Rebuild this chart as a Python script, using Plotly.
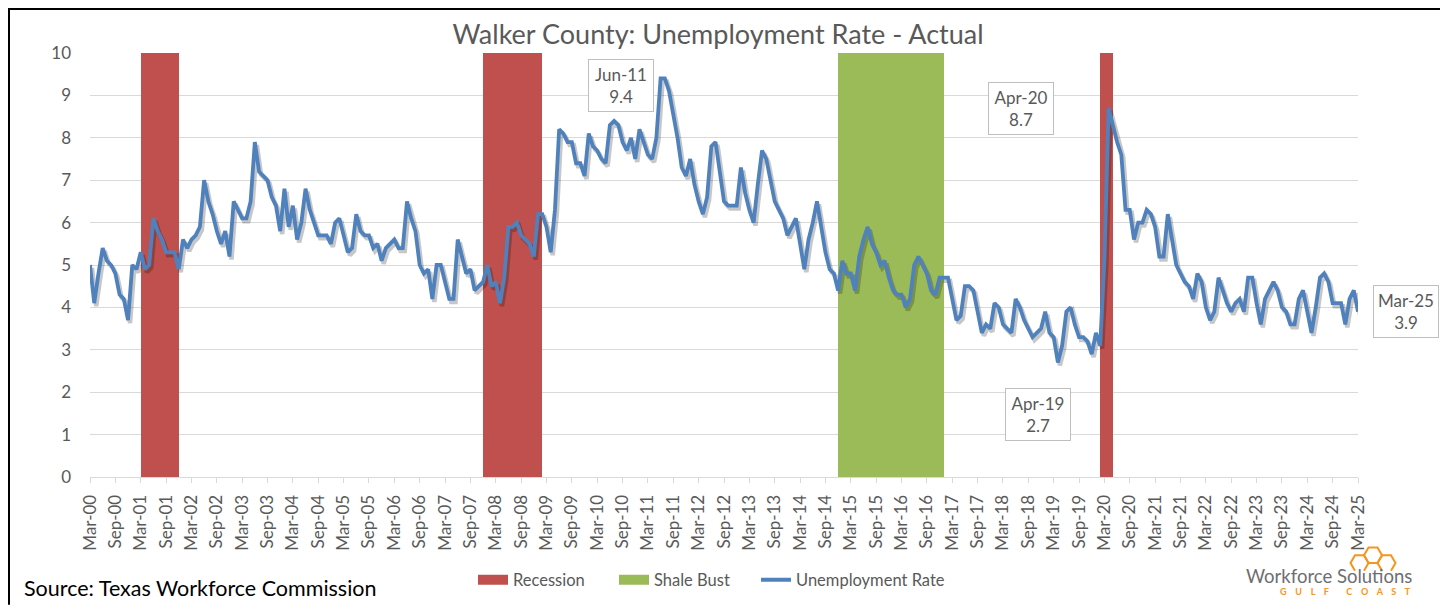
import pandas as pd
import plotly.graph_objects as go

# ---------------- data ----------------
months = [d.strftime('%b-%y') for d in pd.date_range('2000-03-01', '2025-03-01', freq='MS')]

rate = [
    5.0, 4.1, 4.8, 5.4, 5.1, 5.0, 4.8, 4.3, 4.2, 3.7,
    5.0, 4.9, 5.3, 4.9, 5.0, 6.1, 5.8, 5.6, 5.3, 5.3,
    5.3, 4.9, 5.6, 5.4, 5.6, 5.7, 5.9, 7.0, 6.5, 6.2,
    5.8, 5.5, 5.8, 5.2, 6.5, 6.3, 6.1, 6.1, 6.5, 7.9,
    7.2, 7.1, 7.0, 6.6, 6.4, 5.8, 6.8, 5.9, 6.4, 5.6,
    6.0, 6.8, 6.3, 6.0, 5.7, 5.7, 5.7, 5.5, 6.0, 6.1,
    5.7, 5.3, 5.4, 6.2, 5.8, 5.7, 5.7, 5.4, 5.5, 5.1,
    5.4, 5.5, 5.6, 5.4, 5.4, 6.5, 6.1, 5.8, 5.0, 4.8,
    4.9, 4.2, 5.0, 5.0, 4.6, 4.2, 4.2, 5.6, 5.2, 4.8,
    4.9, 4.4, 4.5, 4.6, 5.0, 4.5, 4.6, 4.1, 4.7, 5.9,
    5.9, 6.0, 5.7, 5.6, 5.5, 5.2, 6.2, 6.2, 5.9, 5.3,
    6.3, 8.2, 8.1, 7.9, 7.9, 7.4, 7.4, 7.1, 8.1, 7.8,
    7.7, 7.5, 7.4, 8.3, 8.4, 8.3, 7.9, 7.7, 8.0, 7.5,
    8.2, 7.9, 7.6, 7.5, 8.0, 9.4, 9.4, 9.1, 8.6, 8.0,
    7.3, 7.1, 7.5, 6.9, 6.5, 6.2, 6.6, 7.8, 7.9, 7.2,
    6.5, 6.4, 6.4, 6.4, 7.3, 6.7, 6.3, 6.0, 6.9, 7.7,
    7.5, 7.0, 6.5, 6.3, 6.1, 5.7, 5.9, 6.1, 5.5, 4.9,
    5.6, 6.0, 6.5, 5.9, 5.3, 4.9, 4.8, 4.4, 5.1, 4.8,
    4.8, 4.4, 5.2, 5.6, 5.9, 5.5, 5.3, 5.0, 5.1, 4.7,
    4.4, 4.3, 4.3, 4.0, 4.2, 5.0, 5.2, 5.0, 4.8, 4.4,
    4.3, 4.7, 4.7, 4.7, 4.2, 3.7, 3.8, 4.5, 4.5, 4.4,
    3.9, 3.4, 3.6, 3.5, 4.1, 4.0, 3.6, 3.5, 3.4, 4.2,
    4.0, 3.7, 3.5, 3.3, 3.4, 3.5, 3.9, 3.4, 3.3, 2.7,
    3.1, 3.9, 4.0, 3.6, 3.3, 3.3, 3.2, 2.9, 3.4, 3.1,
    5.1, 8.7, 8.3, 7.9, 7.6, 6.3, 6.3, 5.6, 6.0, 6.0,
    6.3, 6.2, 5.9, 5.2, 5.2, 6.2, 5.6, 5.0, 4.8, 4.6,
    4.5, 4.2, 4.8, 4.6, 4.0, 3.7, 3.9, 4.7, 4.4, 4.1,
    3.9, 4.1, 4.2, 3.9, 4.7, 4.7, 4.1, 3.6, 4.2, 4.4,
    4.6, 4.4, 4.0, 3.9, 3.6, 3.6, 4.2, 4.4, 3.9, 3.4,
    4.0, 4.7, 4.8, 4.6, 4.1, 4.1, 4.1, 3.6, 4.2, 4.4, 3.9,
]

recession_periods = [("Mar-01", "Nov-01"), ("Dec-07", "Jan-09"), ("Feb-20", "Apr-20")]
shale_periods = [("Dec-14", "Dec-16")]
band_height = 10
callouts = ["Jun-11", "Apr-20", "Apr-19", "Mar-25"]
tick_labels = months[::6]
y_ticks = list(range(0, 11))

# ---------------- styling ----------------
OFF = 8                                  # page body margin
FW, FH = 1448 - OFF, 610 - OFF           # figure size
L, R, T, B = 90, 1358, 53, 481           # plot area in page pixels
RED, GREEN, BLUE = "#c0504d", "#9bbb59", "#4f81bd"
TXT = "#595959"
GRID = "#d9d9d9"
FONT = "Lato"


def px(xp):
    return (xp - L) / (R - L)


def py(yp):
    return (B - yp) / (B - T)


x_idx = list(range(len(months)))
n = len(months) - 1
ppm = (R - L) / n
ppu = (B - T) / 10.0


def period_idx(periods):
    out = []
    for a, b in periods:
        out.extend(range(months.index(a), months.index(b) + 1))
    return out


rec_x = period_idx(recession_periods)
shale_x = period_idx(shale_periods)

fig = go.Figure()
fig.add_trace(go.Bar(x=rec_x, y=[band_height] * len(rec_x), width=1, offset=0,
                     marker=dict(color=RED, line=dict(width=0)), showlegend=False,
                     hoverinfo="skip", name="Recession"))
fig.add_trace(go.Bar(x=shale_x, y=[band_height] * len(shale_x), width=1, offset=0,
                     marker=dict(color=GREEN, line=dict(width=0)), showlegend=False,
                     hoverinfo="skip", name="Shale Bust"))
# legend entries for the bands
fig.add_trace(go.Scatter(x=[None], y=[None], mode="lines", name="Recession",
                         line=dict(color=RED, width=10), legend="legend"))
fig.add_trace(go.Scatter(x=[None], y=[None], mode="lines", name="Shale Bust",
                         line=dict(color=GREEN, width=10), legend="legend2"))
# soft shadow of the line (offset axes)
fig.add_trace(go.Scatter(x=x_idx, y=rate, mode="lines", xaxis="x2", yaxis="y2",
                         line=dict(color="rgba(0,0,0,0.22)", width=4.5),
                         showlegend=False, hoverinfo="skip"))
fig.add_trace(go.Scatter(x=x_idx, y=rate, mode="lines", xaxis="x3", yaxis="y3",
                         name="Unemployment Rate", line=dict(color=BLUE, width=3.8),
                         legend="legend3"))

# callout labels (box centre offsets from the data point, in px)
shifts = {"Jun-11": (-40, -7), "Apr-20": (-88, 0), "Apr-19": (-20, -52), "Mar-25": (48, 0)}
for c in callouts:
    i = months.index(c)
    dx, dy = shifts[c]
    fig.add_annotation(x=i, y=rate[i], xref="x", yref="y", showarrow=False,
                       text=f"{c}<br>{rate[i]}", xshift=dx, yshift=dy,
                       width=60, height=47,
                       font=dict(family=FONT, size=17, color=TXT), align="center",
                       bgcolor="white", bordercolor="#bfbfbf", borderwidth=1, borderpad=2)

# source
fig.add_annotation(x=px(22), y=py(593), xref="paper", yref="paper", xanchor="left",
                   yanchor="middle", showarrow=False, text="Source: Texas Workforce Commission",
                   font=dict(family=FONT, size=21.5, color="#000000"))
# logo text
fig.add_annotation(x=px(1414), y=py(581), xref="paper", yref="paper", xanchor="right",
                   yanchor="middle", showarrow=False, text="Workforce Solutions",
                   font=dict(family=FONT, size=18.5, color="#6d6e71"))
gc = "\u00a0\u00a0\u00a0\u00a0".join(list("GULF")) + "\u00a0" * 8 + "\u00a0\u00a0\u00a0\u00a0".join(list("COAST"))
fig.add_annotation(x=px(1413), y=py(597), xref="paper", yref="paper", xanchor="right",
                   yanchor="middle", showarrow=False, text=f"<b>{gc}</b>",
                   font=dict(family=FONT, size=9, color="#f7941d"))


def hex_path(cx, cy, r, open_bottom=False):
    pts = [(cx - r, cy), (cx - r / 2, cy - 0.866 * r), (cx + r / 2, cy - 0.866 * r),
           (cx + r, cy), (cx + r / 2, cy + 0.866 * r), (cx - r / 2, cy + 0.866 * r)]
    if open_bottom:
        pts = [(cx - r / 2, cy + 0.866 * r), (cx - r, cy), (cx - r / 2, cy - 0.866 * r),
               (cx + r / 2, cy - 0.866 * r), (cx + r, cy), (cx + r / 2, cy + 0.866 * r)]
    s = "M" + " L".join(f"{px(a):.5f},{py(b):.5f}" for a, b in pts)
    if not open_bottom:
        s += " Z"
    return s


for cx, cy, ob in [(1373, 560, False), (1359.5, 567.8, True), (1386.5, 567.8, True)]:
    fig.add_shape(type="path", path=hex_path(cx, cy, 9, ob), xref="paper", yref="paper",
                  line=dict(color="#f7941d", width=2))

# outer border: left, top and right edges only (bottom lies below the page)
bx0, bx1, by_top, by_bot = px(9), px(1441.5), py(8.5), py(610)
fig.add_shape(type="path", xref="paper", yref="paper",
              path=f"M{bx0:.5f},{by_bot:.5f} L{bx0:.5f},{by_top:.5f} L{bx1:.5f},{by_top:.5f} L{bx1:.5f},{by_bot:.5f}",
              line=dict(color="#000000", width=2), layer="above")

leg_font = dict(family=FONT, size=16.5, color=TXT)
leg_common = dict(orientation="h", xanchor="left", yanchor="middle", font=leg_font,
                  bgcolor="rgba(0,0,0,0)", borderwidth=0)

fig.update_layout(
    width=FW, height=FH,
    margin=dict(l=L - OFF, r=FW - (R - OFF), t=T - OFF, b=FH - (B - OFF), pad=0),
    paper_bgcolor="white", plot_bgcolor="white",
    barmode="overlay", bargap=0,
    title=dict(text="Walker County: Unemployment Rate - Actual", x=(718 - OFF) / FW,
               xanchor="center", y=1 - (35 - OFF) / FH, yanchor="middle",
               font=dict(family=FONT, size=27, color=TXT)),
    xaxis=dict(range=[0, n], tickmode="array", tickvals=x_idx[::6], ticktext=tick_labels,
               tickangle=-90, ticks="outside", ticklen=5, tickcolor=GRID, showline=True,
               linecolor=GRID, linewidth=1, showgrid=False, zeroline=False,
               tickfont=dict(family=FONT, size=17, color=TXT), ticklabelstandoff=5),
    yaxis=dict(range=[0, 10], tickmode="array", tickvals=y_ticks, showgrid=True,
               gridcolor=GRID, gridwidth=1, zeroline=False, showline=False,
               tickfont=dict(family=FONT, size=17, color=TXT), ticklabelstandoff=18),
    xaxis2=dict(overlaying="x", anchor="y2", range=[-2 / ppm, n - 2 / ppm], visible=False),
    yaxis2=dict(overlaying="y", anchor="x2", range=[3 / ppu, 10 + 3 / ppu], visible=False),
    xaxis3=dict(overlaying="x", anchor="y3", range=[0, n], visible=False),
    yaxis3=dict(overlaying="y", anchor="x3", range=[0, 10], visible=False),
    legend=dict(x=px(473), y=py(585), **leg_common),
    legend2=dict(x=px(614), y=py(585), **leg_common),
    legend3=dict(x=px(756), y=py(585), **leg_common),
    showlegend=True,
)

fig.write_html("out.html")
